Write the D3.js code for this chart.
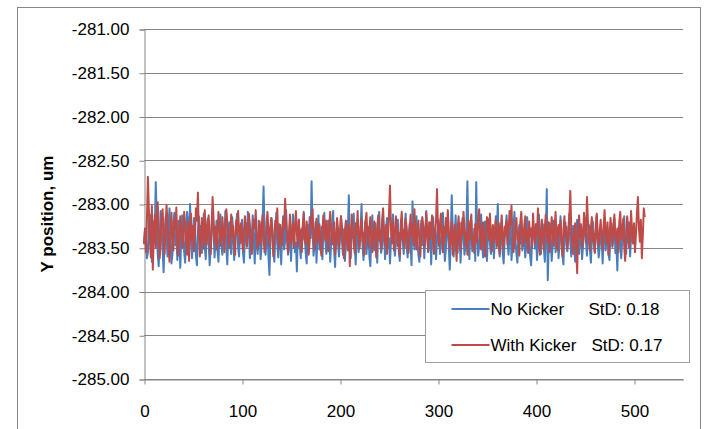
<!DOCTYPE html>
<html>
<head>
<meta charset="utf-8">
<script src="https://cdn.jsdelivr.net/npm/d3@7"></script>
<style>
  html, body { margin: 0; padding: 0; background: #fff; }
  svg { display: block; }
  text { font-family: "Liberation Sans", Arial, sans-serif; fill: #000; }
</style>
</head>
<body>
<svg id="chart" width="704" height="429"></svg>
<script>
// === DATA (one value per sample) ===
const noKicker = [
  -283.45, -283.30, -283.41, -283.62, -283.55, -283.24, -283.12, -283.38, -283.66, -283.49, -283.20, -283.33, -282.75, -283.18, -283.57, -283.71, -283.40, -283.08, -283.29, -283.52,
  -283.78, -283.44, -283.15, -283.36, -283.60, -283.27, -283.05, -283.39, -283.68, -283.58, -283.22, -283.10, -283.47, -283.35, -283.64, -283.19, -283.31, -283.73, -283.42, -283.13,
  -283.26, -283.55, -283.67, -283.34, -283.09, -283.21, -283.50, -283.00, -283.37, -283.62, -283.44, -283.16, -283.28, -283.59, -283.70, -283.32, -283.14, -283.43, -283.25, -283.56,
  -283.38, -283.11, -283.48, -283.63, -283.29, -283.17, -283.45, -283.70, -283.52, -283.23, -283.06, -283.34, -283.61, -283.40, -283.19, -283.53, -283.66, -283.31, -283.12, -283.47,
  -283.58, -283.27, -283.39, -283.08, -283.50, -283.69, -283.35, -283.21, -283.46, -283.57, -283.15, -283.33, -283.64, -283.42, -283.24, -283.11, -283.49, -283.60, -283.30, -283.43,
  -283.18, -283.55, -283.67, -283.36, -283.22, -283.47, -283.09, -283.28, -283.62, -283.51, -283.34, -283.13, -283.41, -283.68, -283.26, -283.45, -283.57, -283.19, -283.37, -283.63,
  -283.48, -283.20, -282.80, -283.32, -283.58, -283.44, -283.25, -283.60, -283.81, -283.39, -283.16, -283.29, -283.54, -283.66, -283.35, -283.10, -283.46, -283.61, -283.23, -283.40,
  -283.69, -283.31, -283.14, -283.52, -283.43, -283.07, -283.36, -283.58, -283.47, -283.22, -283.65, -283.38, -283.12, -283.27, -283.55, -283.44, -283.77, -283.33, -283.18, -283.49,
  -283.62, -283.28, -283.41, -283.09, -283.35, -283.56, -283.68, -283.24, -283.46, -283.15, -283.39, -282.74, -283.30, -283.59, -283.48, -283.21, -283.67, -283.37, -283.13, -283.52,
  -283.44, -283.26, -283.63, -283.34, -283.10, -283.40, -283.57, -283.49, -283.19, -283.31, -283.66, -283.45, -283.23, -283.08, -283.53, -283.72, -283.38, -283.27, -283.46, -283.60,
  -283.35, -283.14, -283.42, -283.58, -283.29, -283.65, -283.47, -283.20, -283.33, -282.90, -283.51, -283.62, -283.25, -283.39, -283.11, -283.44, -283.69, -283.36, -283.17, -283.55,
  -283.43, -283.28, -283.00, -283.48, -283.64, -283.32, -283.19, -283.57, -283.41, -283.26, -283.60, -283.71, -283.34, -283.13, -283.45, -283.53, -283.22, -283.38, -283.67, -283.30,
  -283.09, -283.42, -283.56, -283.47, -283.21, -283.35, -283.63, -283.28, -283.16, -283.50, -283.39, -283.68, -283.44, -283.24, -283.12, -283.37, -283.59, -283.46, -283.31, -283.18,
  -283.54, -283.65, -283.33, -283.20, -283.42, -283.57, -283.27, -283.11, -283.48, -283.61, -283.38, -283.23, -283.45, -283.70, -282.97, -283.36, -283.52, -283.29, -283.14, -283.43,
  -283.58, -283.66, -283.35, -283.19, -283.47, -283.25, -283.62, -283.40, -283.08, -283.32, -283.55, -283.44, -283.21, -283.69, -283.37, -283.15, -283.50, -283.28, -283.63, -283.41,
  -283.18, -283.34, -283.57, -283.46, -283.24, -283.10, -283.39, -283.65, -283.52, -283.30, -283.20, -283.48, -283.75, -283.42, -282.90, -283.27, -283.60, -283.38, -283.13, -283.45,
  -283.56, -283.33, -283.22, -283.67, -283.43, -283.16, -283.36, -283.58, -283.49, -283.26, -282.74, -283.40, -283.63, -283.31, -283.19, -283.54, -283.45, -283.28, -283.65, -282.75,
  -283.37, -283.59, -283.48, -283.23, -283.12, -283.44, -283.61, -283.35, -283.20, -283.52, -283.65, -283.30, -283.17, -283.46, -283.57, -283.39, -283.25, -283.62, -283.43, -283.14,
  -283.33, -283.00, -283.49, -283.60, -283.38, -283.22, -283.55, -283.68, -283.41, -283.27, -283.13, -283.46, -283.58, -283.34, -283.21, -283.64, -283.47, -283.29, -283.09, -283.40,
  -283.56, -283.67, -283.36, -283.24, -283.45, -283.18, -283.53, -283.42, -283.30, -283.61, -283.49, -283.15, -283.37, -283.26, -283.59, -283.70, -283.43, -283.20, -283.34, -283.51,
  -283.28, -283.64, -283.46, -283.12, -283.39, -283.57, -283.31, -283.23, -283.50, -283.66, -283.35, -282.83, -283.87, -283.44, -283.22, -283.38, -283.65, -283.48, -283.19, -283.33,
  -283.55, -283.41, -283.27, -283.62, -283.46, -283.14, -283.36, -283.58, -283.69, -283.32, -283.21, -283.47, -283.54, -283.29, -283.11, -283.43, -283.60, -283.37, -283.25, -283.52,
  -283.66, -283.34, -283.18, -283.45, -283.57, -283.40, -283.23, -283.63, -283.48, -283.30, -283.16, -283.42, -283.59, -283.36, -283.24, -283.51, -283.67, -283.39, -283.20, -283.46,
  -283.55, -283.31, -283.13, -283.44, -283.61, -283.49, -283.26, -283.38, -283.68, -283.35, -283.19, -283.53, -283.42, -283.28, -283.58, -283.64, -283.33, -283.22, -283.47, -283.39,
  -283.17, -283.56, -283.45, -283.76, -283.36, -283.25, -283.50, -283.62, -283.40, -283.29, -283.14, -283.48, -283.57, -283.33, -283.44, -283.21, -283.60, -283.38, -283.27, -283.46
];

const withKicker = [
  -283.46, -283.28, -283.55, -283.17, -282.69, -283.08, -283.42, -283.61, -283.02, -283.75, -283.36, -283.12, -283.50, -283.24, -282.98, -283.33, -283.62, -283.44, -283.15, -283.06,
  -283.38, -283.57, -283.26, -283.01, -283.21, -283.48, -283.66, -283.32, -283.10, -283.40, -283.53, -283.18, -283.29, -283.04, -283.45, -283.59, -283.35, -283.14, -283.27, -283.50,
  -283.39, -283.09, -283.23, -283.47, -283.58, -283.20, -283.65, -283.31, -283.11, -283.43, -283.25, -283.54, -283.37, -283.05, -283.19, -282.87, -283.34, -283.60, -283.42, -283.16,
  -283.28, -283.51, -283.07, -283.36, -283.46, -283.22, -283.13, -283.40, -283.57, -283.30, -282.92, -283.18, -283.44, -283.26, -283.52, -283.35, -283.09, -283.24, -283.48, -283.38,
  -283.15, -283.33, -283.55, -283.27, -283.06, -283.21, -283.42, -283.50, -283.31, -283.12, -283.37, -283.25, -283.47, -283.58, -283.19, -283.34, -283.08, -283.29, -283.45, -283.22,
  -283.40, -283.53, -283.30, -283.14, -283.26, -283.49, -283.36, -283.11, -283.23, -283.44, -283.57, -283.32, -283.18, -283.28, -283.07, -283.41, -283.52, -283.34, -283.20, -283.46,
  -283.27, -283.13, -283.38, -283.55, -283.43, -283.21, -283.09, -283.32, -283.48, -283.25, -283.16, -283.39, -283.60, -283.35, -283.19, -283.29, -283.05, -283.43, -283.51, -283.24,
  -283.33, -283.47, -283.17, -283.28, -282.94, -283.21, -283.40, -283.56, -283.31, -283.12, -283.45, -283.36, -283.22, -283.50, -283.27, -283.08, -283.34, -283.49, -283.18, -283.42,
  -283.30, -283.55, -283.24, -283.11, -283.37, -283.46, -283.20, -283.33, -283.58, -283.43, -283.15, -283.26, -283.06, -283.39, -283.52, -283.29, -283.17, -283.44, -283.35, -283.23,
  -283.48, -283.59, -283.31, -283.13, -283.27, -283.41, -283.19, -283.36, -283.54, -283.25, -283.09, -283.32, -283.46, -283.38, -283.21, -283.57, -283.44, -283.16, -283.28, -283.50,
  -283.35, -283.14, -283.26, -283.47, -283.62, -283.30, -283.19, -283.41, -283.53, -283.24, -283.71, -283.37, -283.12, -283.29, -283.45, -283.56, -283.22, -283.34, -283.08, -283.40,
  -283.51, -283.27, -283.17, -283.43, -283.33, -283.58, -283.21, -283.10, -283.36, -283.49, -283.28, -283.15, -283.44, -283.55, -283.32, -283.20, -283.39, -283.61, -283.26, -283.13,
  -283.42, -283.30, -283.52, -283.18, -283.05, -283.34, -283.47, -283.24, -283.57, -283.38, -283.11, -282.79, -283.29, -283.45, -283.21, -283.53, -283.36, -283.14, -283.27, -283.48,
  -283.33, -283.59, -283.22, -283.09, -283.41, -283.30, -283.50, -283.17, -283.26, -283.44, -283.56, -283.31, -283.12, -283.37, -283.23, -283.47, -283.06, -283.35, -283.52, -283.28,
  -283.19, -283.43, -283.60, -283.32, -283.15, -283.25, -283.49, -283.38, -283.10, -283.34, -283.54, -283.21, -283.40, -283.27, -283.13, -283.46, -283.57, -283.29, -283.18, -282.83,
  -283.31, -283.48, -283.22, -283.11, -283.39, -283.55, -283.26, -283.43, -283.16, -283.34, -283.07, -283.28, -283.50, -283.41, -283.20, -283.58, -283.35, -283.24, -283.45, -283.65,
  -283.30, -283.14, -283.42, -283.53, -283.21, -283.36, -283.09, -283.27, -283.47, -283.33, -283.58, -283.19, -283.40, -283.25, -283.12, -283.49, -283.37, -283.56, -283.23, -283.31,
  -283.44, -283.17, -283.06, -283.38, -283.52, -283.28, -283.21, -283.46, -283.60, -283.34, -283.15, -283.26, -283.41, -283.11, -283.35, -283.54, -283.24, -283.43, -283.30, -283.18,
  -283.49, -283.37, -283.22, -283.57, -283.29, -283.13, -283.40, -283.51, -283.26, -283.35, -283.19, -283.46, -283.32, -283.08, -283.24, -283.02, -283.38, -283.55, -283.44, -283.27,
  -283.16, -283.41, -283.33, -283.59, -283.21, -283.09, -283.36, -283.48, -283.25, -283.14, -283.43, -283.30, -283.56, -283.20, -283.37, -283.28, -283.50, -283.11, -283.32, -283.45,
  -283.23, -283.36, -283.05, -283.47, -283.58, -283.29, -283.18, -283.40, -283.52, -283.26, -283.12, -283.34, -283.44, -283.21, -283.55, -283.38, -283.15, -283.31, -283.48, -283.27,
  -283.09, -283.42, -283.53, -283.24, -283.35, -283.19, -283.46, -283.60, -283.30, -283.14, -283.38, -283.26, -283.51, -283.41, -283.17, -282.85, -283.28, -283.45, -283.57, -283.33,
  -283.22, -283.48, -283.79, -283.31, -283.13, -283.39, -283.25, -283.50, -283.36, -283.10, -283.29, -283.44, -282.92, -283.20, -283.37, -283.53, -283.27, -283.15, -283.42, -283.34,
  -283.56, -283.23, -283.11, -283.40, -283.47, -283.30, -283.18, -283.35, -283.52, -283.26, -283.07, -283.33, -283.45, -283.21, -283.58, -283.38, -283.16, -283.29, -283.49, -283.24,
  -283.12, -283.37, -283.44, -283.28, -283.55, -283.20, -283.09, -283.41, -283.32, -283.17, -283.48, -283.65, -283.36, -283.14, -283.26, -283.50, -283.39, -283.08, -283.30, -283.45,
  -283.22, -283.55, -283.34, -283.11, -282.92, -283.27, -283.43, -283.18, -283.62, -283.36, -283.05, -283.15
];

const yTicks = [-285, -284.5, -284, -283.5, -283, -282.5, -282, -281.5, -281];
const xTicks = [0, 100, 200, 300, 400, 500];
const seriesNames = ["No Kicker", "With Kicker"];
const seriesStd = ["StD: 0.18", "StD: 0.17"];

// === SETUP ===
const svg = d3.select("#chart");
const gridColor = "#868686";
const blue = "#4a7ebb";
const red = "#be4b48";

// plot box in pixels
const plotLeft = 144, plotRight = 683, plotTop = 29, plotBottom = 379;

const x = d3.scaleLinear().domain([0, 550]).range([plotLeft, plotRight]);
const y = d3.scaleLinear().domain([-285, -281]).range([plotBottom, plotTop]);

// outer chart border
svg.append("rect")
  .attr("x", 17.5).attr("y", 7.5)
  .attr("width", 683).attr("height", 440)
  .attr("fill", "none").attr("stroke", gridColor);

// horizontal gridlines
svg.append("g")
  .selectAll("line")
  .data(yTicks)
  .join("line")
  .attr("x1", plotLeft).attr("x2", plotRight)
  .attr("y1", d => Math.round(y(d)) + 0.5)
  .attr("y2", d => Math.round(y(d)) + 0.5)
  .attr("stroke", gridColor);

// y axis (plain hyphen, like the original)
const yAxis = d3.axisLeft(y)
  .tickValues(yTicks)
  .tickSize(5)
  .tickPadding(10)
  .tickFormat(d => d.toFixed(2));

svg.append("g")
  .attr("transform", `translate(${plotLeft + 0.5},0.5)`)
  .call(yAxis)
  .call(g => g.select(".domain").attr("stroke", gridColor))
  .call(g => g.selectAll(".tick line").attr("stroke", gridColor))
  .call(g => g.selectAll(".tick text")
    .attr("font-family", "Liberation Sans, Arial, sans-serif")
    .attr("font-size", 17)
    .attr("fill", "#000"));

// x axis
const xAxis = d3.axisBottom(x)
  .tickValues(xTicks)
  .tickSize(5)
  .tickSizeOuter(0)
  .tickPadding(20);

svg.append("g")
  .attr("transform", `translate(0.5,${plotBottom + 0.5})`)
  .call(xAxis)
  .call(g => g.select(".domain").attr("stroke", gridColor))
  .call(g => g.selectAll(".tick line").attr("stroke", gridColor))
  .call(g => g.selectAll(".tick text")
    .attr("font-family", "Liberation Sans, Arial, sans-serif")
    .attr("font-size", 17)
    .attr("fill", "#000"));

// y axis title
svg.append("text")
  .attr("transform", "translate(53,214) rotate(-90)")
  .attr("text-anchor", "middle")
  .attr("font-size", 17)
  .attr("font-weight", "bold")
  .text("Y position, um");

// === SERIES ===
const line = d3.line()
  .x((d, i) => x(i))
  .y(d => y(d));

svg.append("path")
  .datum(noKicker)
  .attr("d", line)
  .attr("fill", "none")
  .attr("stroke", blue)
  .attr("stroke-width", 2)
  .attr("stroke-linejoin", "round");

svg.append("path")
  .datum(withKicker)
  .attr("d", line)
  .attr("fill", "none")
  .attr("stroke", red)
  .attr("stroke-width", 2)
  .attr("stroke-linejoin", "round");

// === LEGEND ===
const legend = svg.append("g").attr("transform", "translate(425.5,290.5)");
legend.append("rect")
  .attr("width", 264).attr("height", 72)
  .attr("fill", "#fff")
  .attr("stroke", "#a0a0a0");

const colors = [blue, red];
const stdX = [163, 166];
seriesNames.forEach((name, i) => {
  const ly = 18.5 + i * 36;
  legend.append("line")
    .attr("x1", 26).attr("x2", 64)
    .attr("y1", ly).attr("y2", ly)
    .attr("stroke", colors[i]).attr("stroke-width", 2);
  legend.append("text")
    .attr("x", 65).attr("y", ly + 6)
    .attr("font-size", 17)
    .text(name);
  legend.append("text")
    .attr("x", stdX[i]).attr("y", ly + 6)
    .attr("font-size", 17)
    .text(seriesStd[i]);
});
</script>
</body>
</html>
